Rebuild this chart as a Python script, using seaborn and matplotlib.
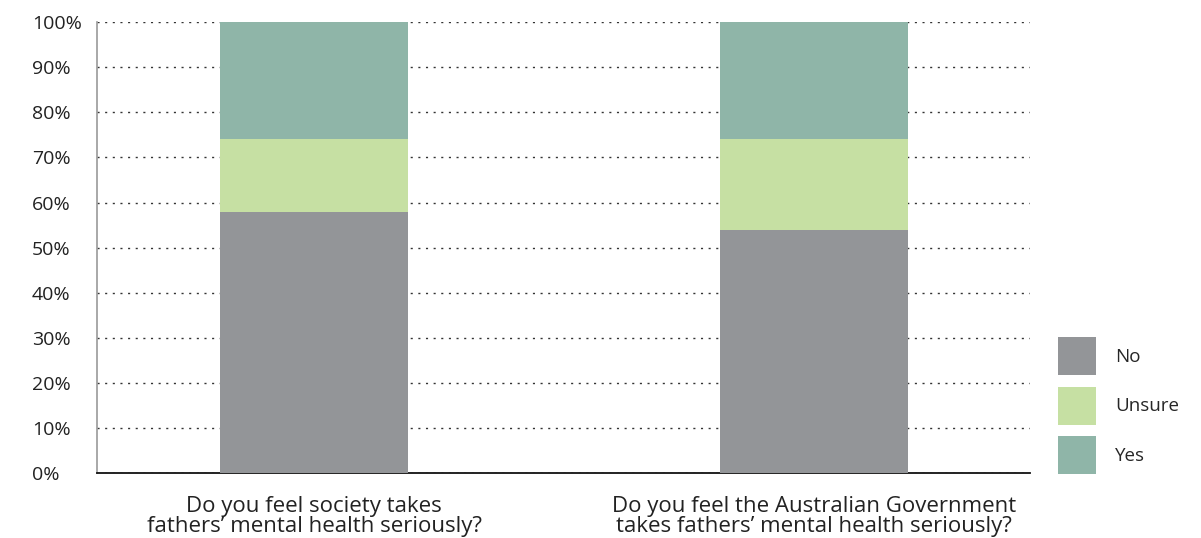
import numpy as np
import pandas as pd
import matplotlib
matplotlib.use("Agg")
import matplotlib.pyplot as plt
from matplotlib.patches import Patch
import seaborn as sns

# Survey responses (% of respondents)
questions = [
    "Do you feel society takes\nfathers\u2019 mental health seriously?",
    "Do you feel the Australian Government\ntakes fathers\u2019 mental health seriously?",
]
responses = ["No", "Unsure", "Yes"]
no_pct = [58, 54]
unsure_pct = [16, 20]
yes_pct = [26, 26]
y_ticks = [0, 10, 20, 30, 40, 50, 60, 70, 80, 90, 100]

colors = {"No": "#939598", "Unsure": "#c6e0a3", "Yes": "#8fb5a8"}

sns.set_theme(style="white")
plt.rcParams["font.family"] = ["Open Sans", "DejaVu Sans"]

df = pd.DataFrame({"question": questions, "No": no_pct, "Unsure": unsure_pct, "Yes": yes_pct})
# cumulative tops of each segment, drawn from the tallest down
stack = df[responses].cumsum(axis=1)

fig = plt.figure(figsize=(12.01, 5.38), dpi=100)
ax = fig.add_axes([0.0808, 0.1203, 0.8576 - 0.0808, 0.959 - 0.1203])

for resp in reversed(responses):
    sns.barplot(x=df["question"], y=stack[resp], color=colors[resp], width=0.376,
                saturation=1, ax=ax, linewidth=0, zorder=3)

ax.set_xlim(-0.434, 1.432)
ax.set_ylim(0, 100)
ax.set_yticks(y_ticks)
ax.set_yticklabels([f"{t}%" for t in y_ticks])
ax.set_xlabel("")
ax.set_ylabel("")

ax.set_axisbelow(True)
ax.yaxis.grid(True, color="#333333", linestyle=(0, (1.5, 4)), linewidth=1.0)
ax.xaxis.grid(False)
ax.tick_params(axis="y", length=0, pad=47, labelsize=14, labelcolor="#222222")
for lbl in ax.get_yticklabels():
    lbl.set_horizontalalignment("left")
ax.tick_params(axis="x", length=0, pad=16, labelsize=16, labelcolor="#222222")
for lbl in ax.get_xticklabels():
    lbl.set_linespacing(0.95)

for side in ["top", "right"]:
    ax.spines[side].set_visible(False)
ax.spines["left"].set_color("#999999")
ax.spines["left"].set_linewidth(1.2)
ax.spines["bottom"].set_color("#111111")
ax.spines["bottom"].set_linewidth(1.3)

handles = [Patch(facecolor=colors[r], edgecolor="none", label=r) for r in responses]
fig.legend(handles=handles, loc="upper left", bbox_to_anchor=(0.881, 0.3736),
           frameon=False, fontsize=13.5, handlelength=2.03, handleheight=2.75,
           labelspacing=0.61, handletextpad=1.0, borderaxespad=0, borderpad=0)

fig.savefig("out.png", dpi=100)
